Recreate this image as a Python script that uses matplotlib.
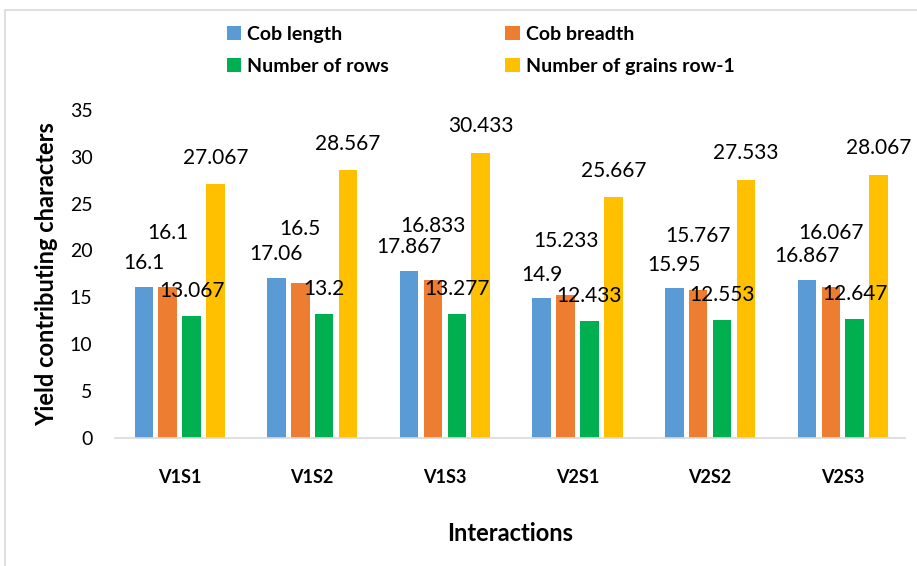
import matplotlib.pyplot as plt
import numpy as np
from matplotlib.patches import Rectangle

plt.rcParams['font.family'] = ['Lato', 'DejaVu Sans']

# data
groups = ['V1S1', 'V1S2', 'V1S3', 'V2S1', 'V2S2', 'V2S3']
cob_length = [16.1, 17.06, 17.867, 14.9, 15.95, 16.867]
cob_breadth = [16.1, 16.5, 16.833, 15.233, 15.767, 16.067]
num_rows = [13.067, 13.2, 13.277, 12.433, 12.553, 12.647]
grains_row = [27.067, 28.567, 30.433, 25.667, 27.533, 28.067]

series = [
    ('Cob length', cob_length, '#5B9BD5', 17),
    ('Cob breadth', cob_breadth, '#ED7D31', 39),
    ('Number of rows', num_rows, '#00B050', 18),
    ('Number of grains row-1', grains_row, '#FFC000', 19),
]

fig = plt.figure(figsize=(9.17, 5.66), dpi=100)
ax = fig.add_axes([0.125, 0.226, 0.862, 0.58])

# chart frame
fig.patches.append(Rectangle((5 / 917, -0.1), 1.0, 1 - 10 / 566 + 0.1,
                             transform=fig.transFigure, fill=False,
                             edgecolor='#D9D9D9', linewidth=1.2))

x = np.arange(len(groups))
w = 0.14
step = 0.18
handles = []
for i, (name, vals, col, off) in enumerate(series):
    pos = x + (i - 1.5) * step
    b = ax.bar(pos, vals, width=w, color=col, label=name)
    handles.append(b)
    for px, v in zip(pos, vals):
        ax.annotate(f'{v:g}', (px, v), xytext=(0, off), textcoords='offset points',
                    ha='center', va='center', fontsize=15)

ax.set_ylim(0, 35)
ax.set_xlim(-0.49, 5.47)
ax.set_yticks(range(0, 36, 5))
ax.tick_params(axis='y', length=0, labelsize=14, pad=16)
ax.tick_params(axis='x', length=0, labelsize=13, pad=22)
ax.set_xticks(x)
ax.set_xticklabels(groups, fontweight='bold')
for s in ['top', 'right', 'left']:
    ax.spines[s].set_visible(False)
ax.spines['bottom'].set_color('#D9D9D9')
ax.spines['bottom'].set_linewidth(1.2)

ax.set_ylabel('Yield contributing characters', fontsize=17, fontweight='bold', labelpad=8)
ax.set_xlabel('Interactions', fontsize=17, fontweight='bold', labelpad=26)

# legend fills column-wise, so order handles to give rows: length/breadth, rows/grains
order = [0, 2, 1, 3]
fig.legend(handles=[handles[i] for i in order], labels=[series[i][0] for i in order], ncol=2,
           loc='upper left', bbox_to_anchor=(0.228, 0.985), frameon=False,
           prop={'weight': 'bold', 'size': 14}, handlelength=0.75, handleheight=0.75,
           handletextpad=0.3, columnspacing=6.0, labelspacing=0.75)

fig.savefig('out.png', dpi=100)
